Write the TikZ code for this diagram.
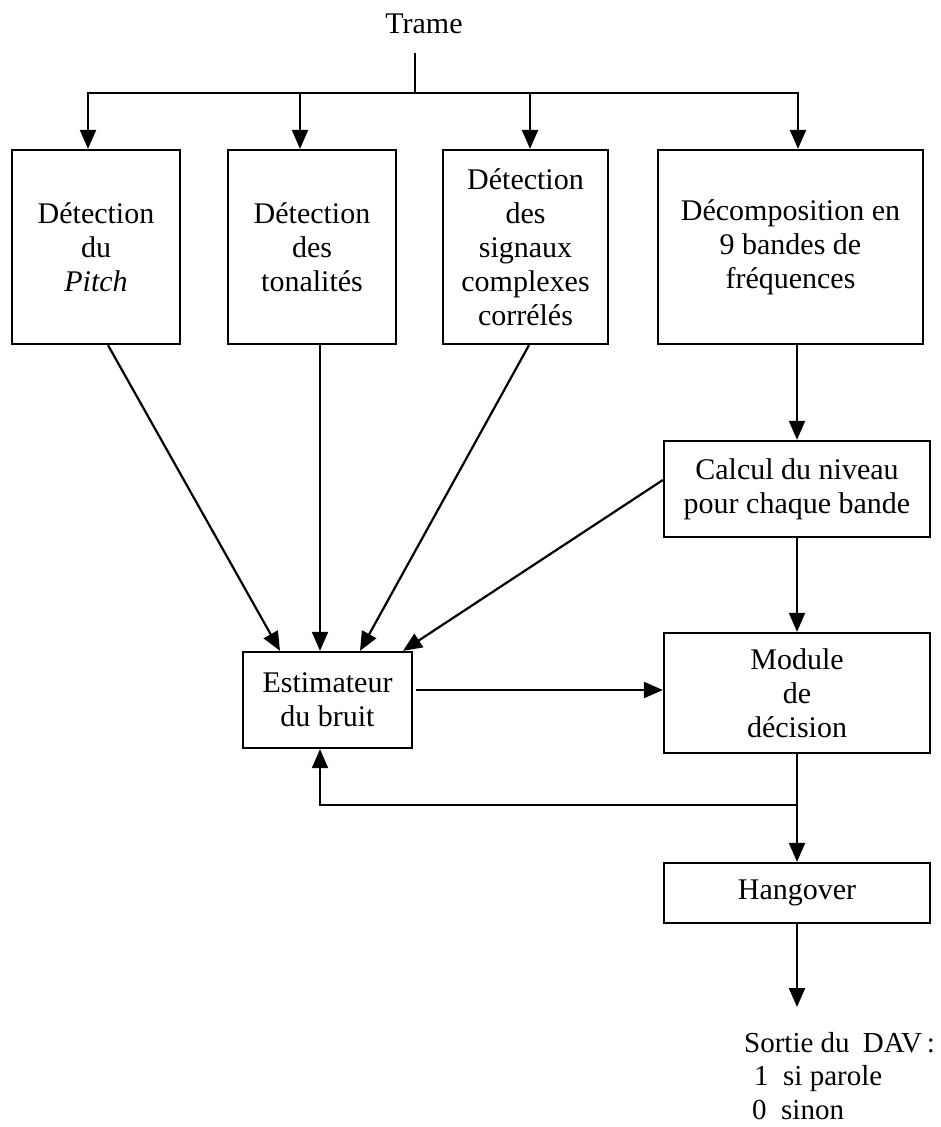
\documentclass[tikz,border=0pt]{standalone}
\usepackage{fontspec}
\setmainfont{Liberation Serif}
\usetikzlibrary{arrows.meta,calc}
\tikzset{
  lbl/.style={font=\fontsize{30}{34}\selectfont, inner sep=0pt, align=center},
  blk/.style={lbl, draw, line width=2.3pt},
  arr/.style={line width=2.2pt, -{Triangle[length=19pt,width=16pt]}},
  ln/.style={line width=2.2pt}
}
\begin{document}
\begin{tikzpicture}[x=1pt,y=-1pt]
\useasboundingbox (0,0) rectangle (940,1127);
% blocks
\node[blk, minimum width=168pt, minimum height=194pt] (b1) at (96,247) {Détection\\du\\\textit{Pitch}};
\node[blk, minimum width=168pt, minimum height=194pt] (b2) at (312,247) {Détection\\des\\tonalités};
\node[blk, minimum width=165pt, minimum height=194pt] (b3) at (525.5,247) {Détection\\des\\signaux\\complexes\\corrélés};
\node[blk, minimum width=265pt, minimum height=194pt] (b4) at (790.5,247) {Décomposition en\\9 bandes de\\fréquences};
\node[blk, minimum width=266pt, minimum height=96pt] (calc) at (797,489) {Calcul du niveau\\pour chaque bande};
\node[blk, minimum width=266pt, minimum height=120pt] (mod) at (797,693) {Module\\de\\décision};
\node[blk, minimum width=266pt, minimum height=60pt] (hang) at (797,893) {Hangover};
\node[blk, minimum width=169pt, minimum height=96pt] (est) at (327.5,700) {Estimateur\\du bruit};
% texts
\node[lbl] (trame) at (424,24) {Trame};
\node[lbl, font=\fontsize{29}{33.5}\selectfont, anchor=north west, align=left] (out) at (744,1032) {Sortie du\hspace{6pt} DAV\,:\\\hspace*{10pt}1\ \ si parole\\\hspace*{8pt}0\ \ sinon};
% trunk and bus
\coordinate (top) at (415,53);
\coordinate (bus) at (415,93);
\coordinate (j1) at (88,93);
\coordinate (j2) at (300,93);
\coordinate (j3) at (530,93);
\coordinate (j4) at (798,93);
\draw[ln] (top) -- (bus);
\draw[ln, line cap=rect] (j1) -- (j4);
\draw[arr] (j1) -- (j1 |- b1.north);
\draw[arr] (j2) -- (j2 |- b2.north);
\draw[arr] (j3) -- (j3 |- b3.north);
\draw[arr] (j4) -- (j4 |- b4.north);
% into estimator
\draw[arr] ([xshift=12pt]b1.south) -- ([xshift=-47.5pt]est.north);
\draw[arr] ([xshift=8pt]b2.south) -- ([xshift=-7.5pt]est.north);
\draw[arr] ([xshift=3.5pt]b3.south) -- ([xshift=32.5pt]est.north);
\draw[arr] ([yshift=9pt]calc.west) -- ([xshift=75.5pt]est.north);
% right column
\draw[arr] (b4.south -| calc.north) -- (calc.north);
\draw[arr] (calc.south) -- (mod.north);
\draw[arr] ([xshift=3pt,yshift=10pt]est.east) -- ([yshift=3pt]mod.west);
\draw[arr] (mod.south) -- (hang.north);
\coordinate (fb) at (797,805);
\draw[arr] (fb) -| ([xshift=-7.5pt]est.south);
\coordinate (outtip) at (797,1007);
\draw[arr] (hang.south) -- (outtip);
\end{tikzpicture}
\end{document}
